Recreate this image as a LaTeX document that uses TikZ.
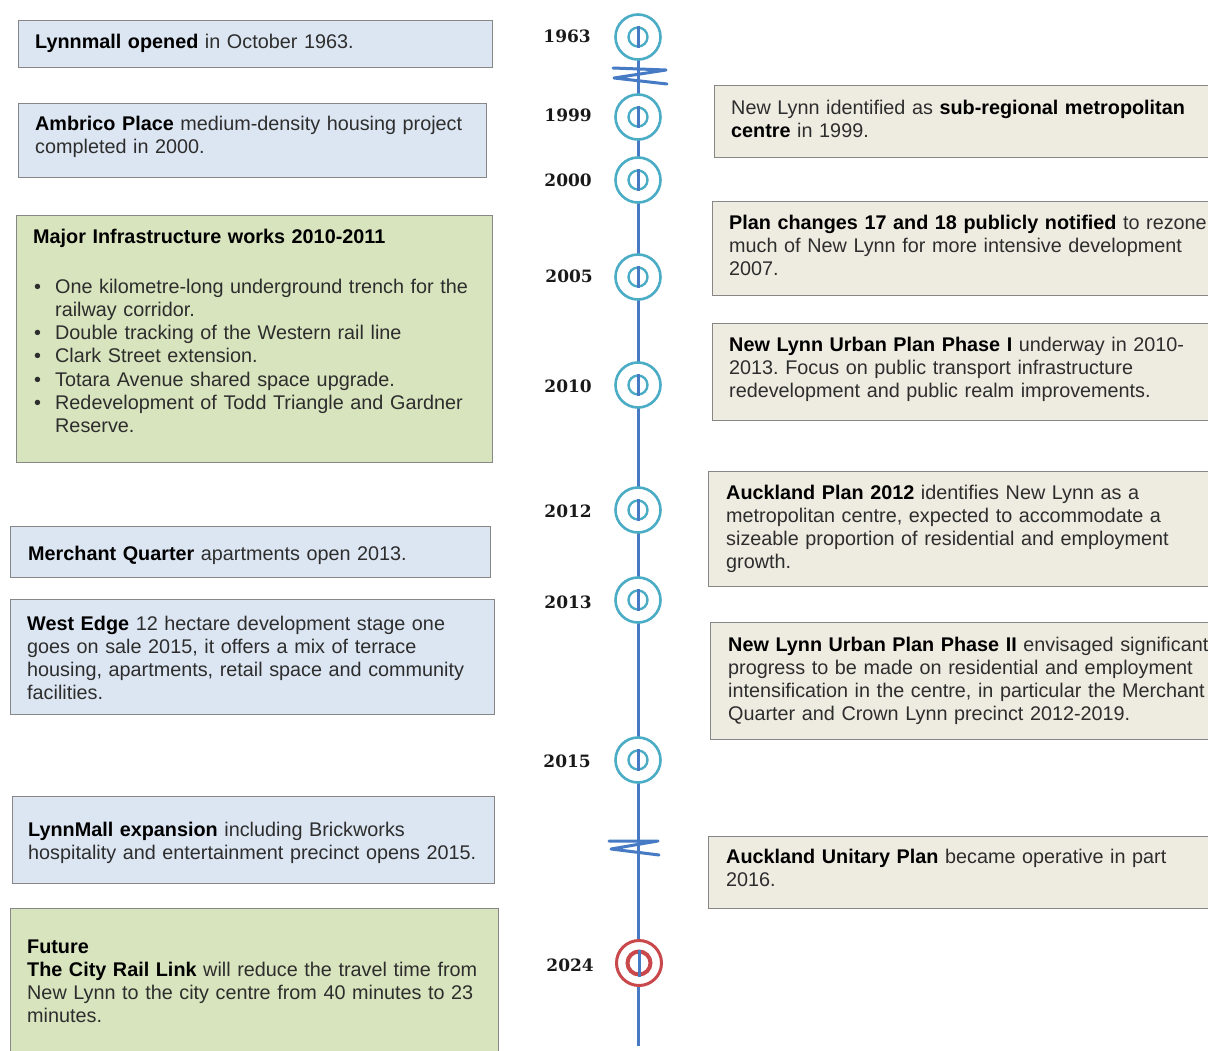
\documentclass[tikz,border=0pt]{standalone}
\usepackage{fontspec}
\setmainfont{Liberation Sans}
\newfontfamily\yearfont{DejaVu Serif}
\frenchspacing
\definecolor{blueF}{RGB}{220,230,242}
\definecolor{greenF}{RGB}{215,228,189}
\definecolor{beigeF}{RGB}{238,236,225}
\definecolor{boxgray}{RGB}{135,135,135}
\definecolor{tlblue}{RGB}{70,122,196}
\definecolor{tlteal}{RGB}{75,172,198}
\definecolor{tlred}{RGB}{200,72,76}
\definecolor{txtgray}{RGB}{45,45,45}
\newcommand\B[1]{\textbf{\color{black}#1}}
\newcommand\tlmark[2]{%
  \node[outring] (#1) at (638,#2) {};
  \node[inring] (#1i) at (638,#2) {};
  \draw[tline] (#1i.north) -- (#1i.south);}
\begin{document}
\begin{tikzpicture}[x=1pt,y=-1pt,
  boxbase/.style={draw=boxgray, line width=1.4pt, anchor=north west, inner sep=0pt},
  lbox/.style={boxbase, fill=blueF},
  gbox/.style={boxbase, fill=greenF},
  rbox/.style={boxbase, fill=beigeF},
  txt/.style={anchor=base west, inner sep=0pt, align=left, text width=520pt,
    font=\fontsize{19.8}{23.3}\selectfont, text=txtgray},
  yr/.style={anchor=east, inner sep=0pt, font=\yearfont\bfseries\fontsize{17}{19}\selectfont, text=black!90},
  tline/.style={draw=tlblue, line width=3pt},
  zz/.style={draw=tlblue, line width=3pt, line join=round, line cap=round},
  outring/.style={circle, draw=tlteal, line width=2.6pt, fill=white, minimum size=45pt, inner sep=0pt},
  inring/.style={circle, draw=tlteal, line width=2.4pt, minimum size=19pt, inner sep=0pt},
  redout/.style={circle, draw=tlred, line width=3pt, fill=white, minimum size=45pt, inner sep=0pt},
  redin/.style={circle, draw=tlred, line width=4pt, minimum size=23pt, inner sep=0pt}
]
\clip (0,0) rectangle (1208,1050);
\fill[white] (0,0) rectangle (1208,1050);

% ---------- left boxes ----------
\node[lbox, minimum width=474pt, minimum height=47pt] (b1) at (18,20) {};
\node[txt] (t1) at (35,48) {\B{Lynnmall opened} in October 1963.};

\node[lbox, minimum width=468pt, minimum height=74pt] (b2) at (18,103) {};
\node[txt] (t2) at (35,130) {\B{Ambrico Place} medium-density housing project\\completed in 2000.};

\node[gbox, minimum width=476pt, minimum height=247pt] (b3) at (16,215) {};
\node[txt] (t3a) at (33,243) {\B{Major Infrastructure works 2010-2011}};
\node[txt] (t3b) at (33,293) {%
\makebox[22pt][l]{\hspace{1pt}\textbullet}One kilometre-long underground trench for the\\
\hspace*{22pt}railway corridor.\\
\makebox[22pt][l]{\hspace{1pt}\textbullet}Double tracking of the Western rail line\\
\makebox[22pt][l]{\hspace{1pt}\textbullet}Clark Street extension.\\
\makebox[22pt][l]{\hspace{1pt}\textbullet}Totara Avenue shared space upgrade.\\
\makebox[22pt][l]{\hspace{1pt}\textbullet}Redevelopment of Todd Triangle and Gardner\\
\hspace*{22pt}Reserve.};

\node[lbox, minimum width=480pt, minimum height=51pt] (b4) at (10,526) {};
\node[txt] (t4) at (28,560) {\B{Merchant Quarter} apartments open 2013.};

\node[lbox, minimum width=484pt, minimum height=115pt] (b5) at (10,599) {};
\node[txt] (t5) at (27,630) {\B{West Edge} 12 hectare development stage one\\goes on sale 2015, it offers a mix of terrace\\housing, apartments, retail space and community\\facilities.};

\node[lbox, minimum width=482pt, minimum height=87pt] (b6) at (12,796) {};
\node[txt] (t6) at (28,836) {\B{LynnMall expansion} including Brickworks\\hospitality and entertainment precinct opens 2015.};

\node[gbox, minimum width=488pt, minimum height=152pt] (b7) at (10,908) {};
\node[txt] (t7) at (27,953) {\B{Future}\\\B{The City Rail Link} will reduce the travel time from\\New Lynn to the city centre from 40 minutes to 23\\minutes.};

% ---------- right boxes ----------
\node[rbox, minimum width=506pt, minimum height=72pt] (r1) at (714,85) {};
\node[txt] (u1) at (731,114) {New Lynn identified as \B{sub-regional metropolitan}\\\B{centre} in 1999.};

\node[rbox, minimum width=508pt, minimum height=94pt] (r2) at (712,201) {};
\node[txt] (u2) at (729,229) {\B{Plan changes 17 and 18 publicly notified} to rezone\\much of New Lynn for more intensive development\\2007.};

\node[rbox, minimum width=508pt, minimum height=97pt] (r3) at (712,323) {};
\node[txt] (u3) at (729,351) {\B{New Lynn Urban Plan Phase I} underway in 2010-\\2013. Focus on public transport infrastructure\\redevelopment and public realm improvements.};

\node[rbox, minimum width=512pt, minimum height=115pt] (r4) at (708,471) {};
\node[txt] (u4) at (726,499) {\B{Auckland Plan 2012} identifies New Lynn as a\\metropolitan centre, expected to accommodate a\\sizeable proportion of residential and employment\\growth.};

\node[rbox, minimum width=510pt, minimum height=117pt] (r5) at (710,622) {};
\node[txt] (u5) at (728,651) {\B{New Lynn Urban Plan Phase II} envisaged significant\\progress to be made on residential and employment\\intensification in the centre, in particular the Merchant\\Quarter and Crown Lynn precinct 2012-2019.};

\node[rbox, minimum width=512pt, minimum height=72pt] (r6) at (708,836) {};
\node[txt] (u6) at (726,863) {\B{Auckland Unitary Plan} became operative in part\\2016.};

% ---------- timeline ----------
\coordinate (tltop) at (638,37);
\coordinate (tlbot) at (638,1046);
\draw[tline] (tltop) -- (tlbot);

\draw[zz] (613,68) -- (666,70) -- (614,78) -- (667,84);
\draw[zz] (609,841) -- (658,841) -- (611,849) -- (659,855);

\tlmark{m1963}{37}
\tlmark{m1999}{117}
\tlmark{m2000}{180}
\tlmark{m2005}{277}
\tlmark{m2010}{385}
\tlmark{m2012}{510}
\tlmark{m2013}{600}
\tlmark{m2015}{760}
\node[redout] (m2024) at (639,963) {};
\node[redin] (m2024i) at (639,963) {};
\draw[tline] (m2024i.north) -- (m2024i.south);

\node[yr] (y1963) at (591,36) {1963};
\node[yr] (y1999) at (592,115) {1999};
\node[yr] (y2000) at (592,180) {2000};
\node[yr] (y2005) at (593,276) {2005};
\node[yr] (y2010) at (592,386) {2010};
\node[yr] (y2012) at (592,511) {2012};
\node[yr] (y2013) at (592,602) {2013};
\node[yr] (y2015) at (591,761) {2015};
\node[yr] (y2024) at (594,965) {2024};
\end{tikzpicture}
\end{document}
